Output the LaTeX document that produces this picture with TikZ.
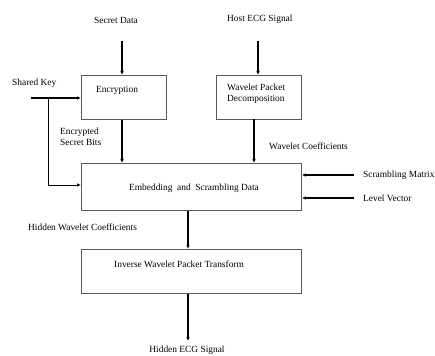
\documentclass[tikz,border=0pt]{standalone}
\usepackage{fontspec}
\setmainfont{Liberation Serif}
\usetikzlibrary{arrows.meta}
\begin{document}
\begin{tikzpicture}[x=1pt,y=-1pt,
  blk/.style={draw=black!65,line width=0.8pt,inner sep=0pt},
  arr/.style={line width=1.3pt,-{Latex[length=4pt,width=3.5pt]}},
  thin arr/.style={line width=0.9pt,-{Latex[length=4pt,width=3.5pt]}},
  lbl/.style={inner sep=0pt,font=\fontsize{9.4}{11}\selectfont},
]
\useasboundingbox (0,0) rectangle (435,355);
% boxes
\node[blk,minimum width=85pt,minimum height=44pt,anchor=north west] (enc) at (81,75) {};
\node[blk,minimum width=85pt,minimum height=44pt,anchor=north west] (wpd) at (216,75) {};
\node[blk,minimum width=220pt,minimum height=47pt,anchor=north west] (emb) at (81,163) {};
\node[blk,minimum width=220pt,minimum height=44pt,anchor=north west] (iwp) at (81,249) {};
% box texts
\node[lbl,anchor=west] (enct) at (96,90) {Encryption};
\node[lbl,anchor=north west,align=left] (wpdt) at (227,84) {Wavelet Packet\\Decomposition};
\node[lbl] (embt) at (194,188) {Embedding\ \ and\ \ Scrambling Data};
\node[lbl,anchor=west] (iwpt) at (114,264) {Inverse Wavelet Packet Transform};
% labels
\node[lbl] (sd) at (116,20) {Secret Data};
\node[lbl,anchor=west] (hs) at (227,19) {Host ECG Signal};
\node[lbl,anchor=west] (sk) at (12,83) {Shared Key};
\node[lbl,anchor=north west,align=left] (esb) at (60,128) {Encrypted\\Secret Bits};
\node[lbl,anchor=west] (wc) at (269,146) {Wavelet Coefficients};
\node[lbl,anchor=west] (sm) at (363,175) {Scrambling Matrix};
\node[lbl,anchor=west] (lv) at (363,198) {Level Vector};
\node[lbl,anchor=west] (hwc) at (28,227) {Hidden Wavelet Coefficients};
\node[lbl] (hecg) at (187,350) {Hidden ECG Signal};
% coordinates
\coordinate (sdS) at (122,41);
\coordinate (hsS) at (258,41);
\coordinate (skS) at (31,98);
\coordinate (skJ) at (48,98);
\coordinate (smS) at (354,175);
\coordinate (lvS) at (354,198);
\coordinate (outE) at (188,341);
% arrows
\draw[arr] (sdS) -- (sdS |- enc.north);
\draw[arr] (hsS) -- (hsS |- wpd.north);
\draw[arr] (skS) -- (enc.west |- skS);
\draw[thin arr] (skJ) |- (emb.west |- 0,185);
\draw[arr] (sdS |- enc.south) -- (sdS |- emb.north);
\draw[arr] (254,119) -- (254,163);
\draw[arr] (smS) -- (emb.east |- smS);
\draw[arr] (lvS) -- (emb.east |- lvS);
\draw[arr] (outE |- emb.south) -- (outE |- iwp.north);
\draw[arr] (outE |- iwp.south) -- (outE);
\end{tikzpicture}
\end{document}
